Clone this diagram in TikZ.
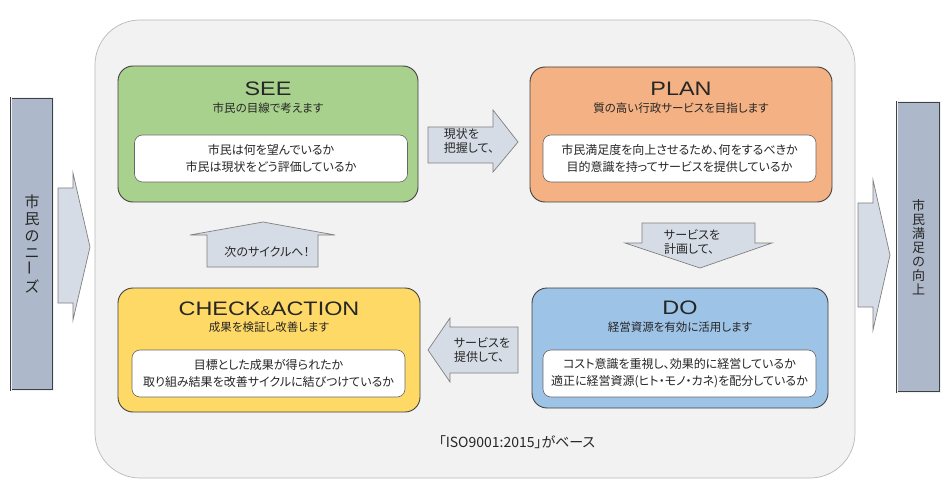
\documentclass[tikz,border=0pt]{standalone}
\usepackage{fontspec}
\setmainfont{Noto Sans CJK JP}[RawFeature=+palt]
\newfontfamily\titlefont{Liberation Sans}[FakeStretch=1.2]
\definecolor{sfondo}{HTML}{F2F2F2}
\definecolor{verde}{HTML}{A9D18E}
\definecolor{arancio}{HTML}{F4B183}
\definecolor{giallo}{HTML}{FFD966}
\definecolor{azzurro}{HTML}{9DC3E6}
\definecolor{bordo}{HTML}{404040}
\definecolor{barracol}{HTML}{ADB9CA}
\definecolor{frecciacol}{HTML}{D6DCE5}
\definecolor{testo}{HTML}{262626}
\begin{document}
\begin{tikzpicture}[x=1pt,y=-1pt,
  every node/.style={text=testo},
  fase/.style={draw=bordo, line width=0.9pt, rounded corners=15pt},
  interno/.style={draw=bordo!80, fill=white, line width=0.6pt, rounded corners=8pt,
    minimum width=273pt, minimum height=47pt, align=center,
    font=\fontsize{12}{17}\selectfont},
  titolo/.style={font=\titlefont\fontsize{19.5}{19.5}\selectfont},
  sottotitolo/.style={font=\fontsize{11.5}{11.5}\selectfont},
  freccia/.style={draw=gray, fill=frecciacol, line width=0.7pt},
  testofreccia/.style={align=left, font=\fontsize{12}{14.5}\selectfont},
  barra/.style={draw=bordo, double=white!80!barracol, double distance=1pt,
    line width=0.7pt, fill=barracol, align=center}]
%sfondo
\useasboundingbox (0,0) rectangle (950,497);
\fill[white] (0,0) rectangle (950,497);
\draw[gray!55, fill=sfondo, line width=0.7pt, rounded corners=45pt] (95,20) rectangle (855,478);
%barre laterali
\node[barra, minimum width=42pt, minimum height=292pt, font=\fontsize{15}{17}\selectfont]
  (bisogni) at (32,244) {市\\民\\の\\ニ\\\rotatebox{90}{ー}\\ズ};
\node[barra, minimum width=43pt, minimum height=290pt, font=\fontsize{13}{14}\selectfont]
  (soddisfazione) at (918.5,247) {市\\民\\満\\足\\の\\向\\上};
%frecce laterali
\draw[freccia] (58,188)--(73,188)--(73,173)--(90,247)--(73,320)--(73,303)--(58,303)--cycle;
\draw[freccia] (858,203)--(873,203)--(873,180)--(890,255)--(873,330)--(873,307)--(858,307)--cycle;
%SEE
\node[fase, fill=verde, minimum width=300pt, minimum height=136pt] (see) at (268,134) {};
\node[titolo] (see-t) at (268,89) {SEE};
\node[sottotitolo] (see-s) at (268,108) {市民の目線で考えます};
\node[interno] (see-i) at (271,158.5) {市民は何を望んでいるか\\市民は現状をどう評価しているか};
%PLAN
\node[fase, fill=arancio, minimum width=302pt, minimum height=135pt] (plan) at (681,134.5) {};
\node[titolo] (plan-t) at (681,89) {PLAN};
\node[sottotitolo] (plan-s) at (681,108) {質の高い行政サービスを目指します};
\node[interno] (plan-i) at (679.5,158.5) {市民満足度を向上させるため、何をするべきか\\目的意識を持ってサービスを提供しているか};
%CHECK & ACTION
\node[fase, fill=giallo, minimum width=302pt, minimum height=124pt] (check) at (269,350) {};
\node[titolo] (check-t) at (269,309) {CHECK{\fontsize{13}{13}\selectfont\&}ACTION};
\node[sottotitolo] (check-s) at (269,327) {成果を検証し改善します};
\node[interno] (check-i) at (268.5,373.5) {目標とした成果が得られたか\\取り組み結果を改善サイクルに結びつけているか};
%DO
\node[fase, fill=azzurro, minimum width=296pt, minimum height=120pt] (do) at (680,348) {};
\node[titolo] (do-t) at (680,308) {DO};
\node[sottotitolo] (do-s) at (680,327) {経営資源を有効に活用します};
\node[interno] (do-i) at (679.5,373.5) {コスト意識を重視し、効果的に経営しているか\\適正に経営資源(ヒト・モノ・カネ)を配分しているか};
%frecce tra le fasi
\draw[freccia] (428,127)--(493,127)--(493,110)--(518,142)--(493,172)--(493,163)--(428,163)--cycle;
\node[testofreccia] (analisi) at (469,141) {現状を\\把握して、};
\draw[freccia] (207,267)--(207,235)--(190,235)--(263,222)--(335,235)--(318,235)--(318,267)--cycle;
\node[testofreccia] (ciclo) at (267,252) {次のサイクルへ！};
\draw[freccia] (642,223)--(755,223)--(755,243)--(772,243)--(700,268)--(625,243)--(642,243)--cycle;
\node[testofreccia] (progetto) at (692,242) {サービスを\\計画して、};
\draw[freccia] (518,327)--(450,327)--(450,318)--(428,350)--(450,382)--(450,373)--(518,373)--cycle;
\node[testofreccia] (servizio) at (482,350) {サービスを\\提供して、};
%base
\node[font=\fontsize{14}{14}\selectfont] (base) at (517,442) {「ISO9001:2015」がベース};
\end{tikzpicture}
\end{document}
